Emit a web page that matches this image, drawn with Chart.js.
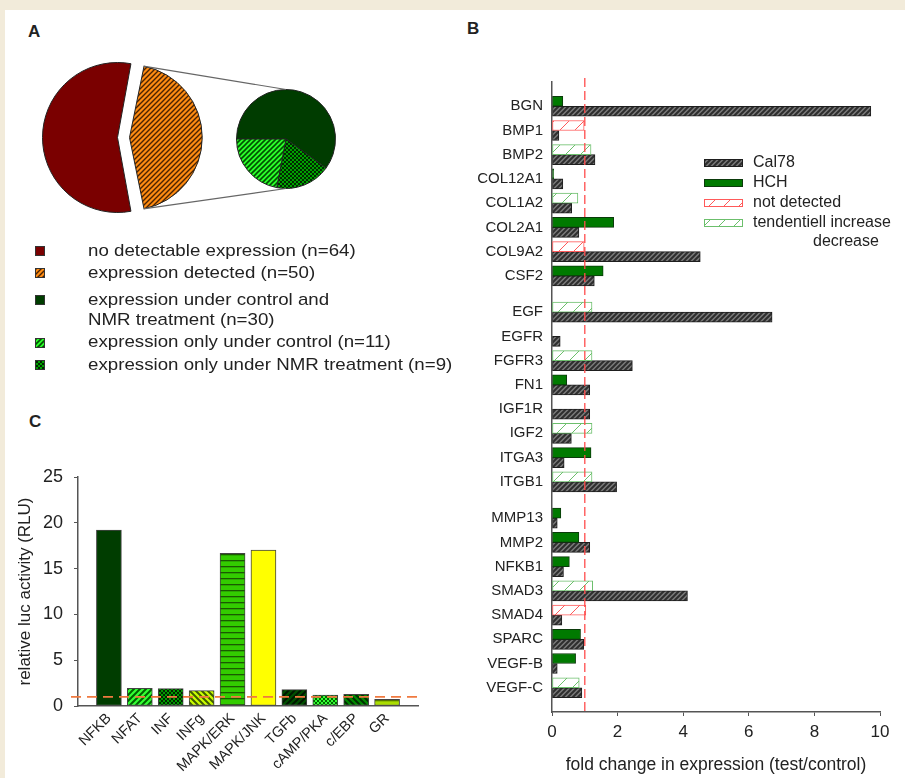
<!DOCTYPE html>
<html>
<head>
<meta charset="utf-8">
<script src="https://cdn.jsdelivr.net/npm/chart.js@4.4.1/dist/chart.umd.min.js"></script>
<style>
  body { margin: 0; width: 905px; height: 778px; background: #f2ebda; position: relative; overflow: hidden;
         font-family: Arial, "Liberation Sans", sans-serif; color: #222; }
  #panel { position: absolute; left: 5px; top: 10px; width: 900px; height: 768px; background: #fff; }
  .plabel { position: absolute; font-weight: bold; font-size: 17px; }
  canvas { position: absolute; }
  .sw { position: absolute; left: 35px; width: 10px; height: 10px; border: 1px solid #333; box-sizing: border-box; }
  .lt { position: absolute; left: 88px; font-size: 17px; line-height: 20px; white-space: pre; transform: scaleX(1.1); transform-origin: 0 50%; }
  svg { position: absolute; left: 0; top: 0; }
</style>
</head>
<body>
<div id="panel"></div>
<div class="plabel" style="left:28px;top:22px">A</div>
<div class="plabel" style="left:467px;top:19px">B</div>
<div class="plabel" style="left:29px;top:412px">C</div>

<canvas id="pieMain" width="163" height="163" style="left:42px;top:56px"></canvas>
<canvas id="pieSub" width="100" height="100" style="left:236px;top:89px"></canvas>
<svg id="links" width="905" height="778"></svg>
<div id="legendA"></div>

<canvas id="chartB" width="435" height="708" style="left:470px;top:70px"></canvas>
<canvas id="chartC" width="430" height="338" style="left:5px;top:440px"></canvas>

<script>
// ---------- Panel A data ----------
const mainCats = ['no detectable expression', 'expression detected'];
const mainCounts = [64, 50];
const subCats = ['expression under control and\nNMR treatment', 'expression only under control', 'expression only under NMR treatment'];
const subCounts = [30, 11, 9];

// ---------- Panel B data ----------
const geneGroups = [
  ['BGN', 'BMP1', 'BMP2', 'COL12A1', 'COL1A2', 'COL2A1', 'COL9A2', 'CSF2'],
  ['EGF', 'EGFR', 'FGFR3', 'FN1', 'IGF1R', 'IGF2', 'ITGA3', 'ITGB1'],
  ['MMP13', 'MMP2', 'NFKB1', 'SMAD3', 'SMAD4', 'SPARC', 'VEGF-B', 'VEGF-C']
];
const cal78 = [9.72, 0.21, 1.31, 0.33, 0.60, 0.82, 4.52, 1.29,
               6.71, 0.25, 2.45, 1.15, 1.15, 0.59, 0.37, 1.97,
               0.16, 1.15, 0.35, 4.13, 0.30, 0.97, 0.16, 0.91];
const hch = [0.33, null, null, 0.05, null, 1.88, null, 1.56,
             null, null, null, 0.45, null, null, 1.19, null,
             0.27, 0.82, 0.53, null, null, 0.87, 0.72, null];
const notDetected = [null, 0.98, null, null, null, null, 0.98, null,
                     null, null, null, null, null, null, null, null,
                     null, null, null, null, 1.03, null, null, null];
const tendentiell = [null, null, 1.19, null, 0.79, null, null, null,
                     1.22, null, 1.22, null, null, 1.22, null, 1.22,
                     null, null, null, 1.24, null, null, null, 0.83];
const foldTicks = [0, 2, 4, 6, 8, 10];
const baselineB = 1;

// ---------- Panel C data ----------
const pathways = ['NFKB', 'NFAT', 'INF', 'INFg', 'MAPK/ERK', 'MAPK/JNK', 'TGFb', 'cAMP/PKA', 'c/EBP', 'GR'];
const rlu = [19.2, 1.93, 1.9, 1.67, 16.67, 17.03, 1.78, 1.2, 1.27, 0.73];
const baselineC = 1;

const FONT = 'Arial, "Liberation Sans", sans-serif';
Chart.defaults.font.family = FONT;
Chart.defaults.color = '#222';

// ---------- pattern helpers ----------
function makePattern(kind, bg, fg, size, lw) {
  const c = document.createElement('canvas');
  c.width = size; c.height = size;
  const x = c.getContext('2d');
  x.fillStyle = bg; x.fillRect(0, 0, size, size);
  x.strokeStyle = fg; x.fillStyle = fg; x.lineWidth = lw;
  const s = size;
  if (kind === 'diag') {
    x.beginPath();
    x.moveTo(0, s); x.lineTo(s, 0);
    x.moveTo(-s / 2, s / 2); x.lineTo(s / 2, -s / 2);
    x.moveTo(s / 2, s * 1.5); x.lineTo(s * 1.5, s / 2);
    x.stroke();
  } else if (kind === 'back') {
    x.beginPath();
    x.moveTo(0, 0); x.lineTo(s, s);
    x.moveTo(-s / 2, s / 2); x.lineTo(s / 2, s * 1.5);
    x.moveTo(s / 2, -s / 2); x.lineTo(s * 1.5, s / 2);
    x.stroke();
  } else if (kind === 'check') {
    const h = s / 2;
    x.fillRect(0, 0, h, h); x.fillRect(h, h, h, h);
  } else if (kind === 'horiz') {
    x.fillRect(0, 0, s, lw);
  }
  c.pattern = x.createPattern(c, 'repeat');
  return c;
}

// ---------- Panel A ----------
const redFill = '#7a0000';
const orangePat = makePattern('diag', '#ff8c12', '#4a2200', 5, 1.4);
const dkGreen = '#003c00';
const limePat = makePattern('diag', '#2bff2b', '#005000', 5, 1.6);
const checkPat = makePattern('check', '#00a000', '#002a00', 4, 1);

const mainColors = [redFill, orangePat.pattern];
const subColors = [dkGreen, limePat.pattern, checkPat.pattern];
const subPieOrder = [0, 2, 1];

const mainSpan = mainCounts[0] / (mainCounts[0] + mainCounts[1]) * 360;
const pieMain = new Chart(document.getElementById('pieMain'), {
  type: 'pie',
  data: {
    labels: mainCats,
    datasets: [{
      data: mainCounts,
      backgroundColor: mainColors,
      borderColor: '#222', borderWidth: 1, hoverBorderWidth: 1,
      offset: 24, hoverOffset: 24
    }]
  },
  options: {
    responsive: false, animation: false, events: [],
    rotation: 270 - mainSpan / 2,
    plugins: { legend: { display: false }, tooltip: { enabled: false } }
  }
});

const pieSub = new Chart(document.getElementById('pieSub'), {
  type: 'pie',
  data: {
    labels: subPieOrder.map(i => subCats[i]),
    datasets: [{
      data: subPieOrder.map(i => subCounts[i]),
      backgroundColor: subPieOrder.map(i => subColors[i]),
      borderColor: '#222', borderWidth: 1, hoverBorderWidth: 1,
      offset: 0, hoverOffset: 0
    }]
  },
  options: {
    responsive: false, animation: false, events: [],
    rotation: -90,
    plugins: { legend: { display: false }, tooltip: { enabled: false } }
  }
});

// connector lines from the exploded slice to the small pie
(function drawLinks() {
  const cm = document.getElementById('pieMain'), cs = document.getElementById('pieSub');
  const arc = pieMain.getDatasetMeta(0).data[1];
  const o = arc.options.offset / 4;
  const circ = arc.endAngle - arc.startAngle;
  const r = arc.outerRadius + o * (1 - Math.sin(Math.min(Math.PI, circ)));
  const mid = (arc.startAngle + arc.endAngle) / 2;
  const bx = cm.offsetLeft + arc.x + o * Math.cos(mid), by = cm.offsetTop + arc.y + o * Math.sin(mid);
  const small = pieSub.getDatasetMeta(0).data[0];
  const sx = cs.offsetLeft + small.x, sy = cs.offsetTop + small.y, sr = small.outerRadius;
  const pts = [
    [bx + r * Math.cos(arc.startAngle), by + r * Math.sin(arc.startAngle), sx, sy - sr],
    [bx + r * Math.cos(arc.endAngle), by + r * Math.sin(arc.endAngle), sx, sy + sr]
  ];
  const svg = document.getElementById('links');
  pts.forEach(p => {
    const l = document.createElementNS('http://www.w3.org/2000/svg', 'line');
    l.setAttribute('x1', p[0]); l.setAttribute('y1', p[1]);
    l.setAttribute('x2', p[2]); l.setAttribute('y2', p[3]);
    l.setAttribute('stroke', '#666'); l.setAttribute('stroke-width', '1.2');
    svg.appendChild(l);
  });
})();

// legend of panel A
(function legendA() {
  const host = document.getElementById('legendA');
  const rows = [
    { text: `${mainCats[0]} (n=${mainCounts[0]})`, fill: redFill, sw: 246, tx: 241 },
    { text: `${mainCats[1]} (n=${mainCounts[1]})`, fill: orangePat, sw: 268, tx: 263 },
    { text: `${subCats[0]} (n=${subCounts[0]})`, fill: dkGreen, sw: 295, tx: 290 },
    { text: `${subCats[1]} (n=${subCounts[1]})`, fill: limePat, sw: 338, tx: 332 },
    { text: `${subCats[2]} (n=${subCounts[2]})`, fill: checkPat, sw: 360, tx: 355 }
  ];
  rows.forEach(r => {
    const s = document.createElement('div');
    s.className = 'sw';
    s.style.top = r.sw + 'px';
    if (typeof r.fill === 'string') s.style.background = r.fill;
    else s.style.backgroundImage = `url(${r.fill.toDataURL()})`;
    host.appendChild(s);
    const t = document.createElement('div');
    t.className = 'lt';
    t.style.top = r.tx + 'px';
    t.textContent = r.text;
    host.appendChild(t);
  });
})();

// ---------- shared plugins ----------
const refLine = {
  id: 'refLine',
  afterDatasetsDraw(chart, args, opts) {
    const { ctx, chartArea: a, scales } = chart;
    ctx.save();
    ctx.strokeStyle = opts.color; ctx.lineWidth = opts.width; ctx.setLineDash(opts.dash);
    ctx.beginPath();
    if (opts.axis === 'x') {
      const px = scales.x.getPixelForValue(opts.value);
      ctx.moveTo(px, a.top - (opts.extend || 0)); ctx.lineTo(px, a.bottom);
    } else {
      const py = scales.y.getPixelForValue(opts.value);
      ctx.moveTo(a.left - (opts.extend || 0), py); ctx.lineTo(a.right, py);
    }
    ctx.stroke();
    ctx.restore();
  }
};

// ---------- Panel B ----------
const genes = geneGroups.flat();
const rowPos = [];
let p = 0;
geneGroups.forEach((g, gi) => {
  if (gi > 0) p += 0.5;
  g.forEach(() => { p += 1; rowPos.push(p); });
});
const rowMax = p + 1;
const toPoints = vals => vals.map((v, i) => ({ x: v, y: rowPos[i] })).filter(d => d.x !== null);

const cal78Pat = makePattern('diag', '#7a7a7a', '#2e2e2e', 5, 2);
const ndPat = makePattern('diag', '#ffffff', '#ff5a5a', 15, 1);
const tdPat = makePattern('diag', '#ffffff', '#6cbf6c', 15, 1);

const legendB = {
  id: 'legendB',
  afterDraw(chart) {
    const ctx = chart.ctx;
    const order = [3, 0, 1, 2];
    ctx.save();
    ctx.font = '16px ' + FONT;
    ctx.textBaseline = 'middle';
    order.forEach((di, k) => {
      const ds = chart.data.datasets[di];
      const y = 93 + k * 20;
      ctx.fillStyle = ds.backgroundColor; ctx.fillRect(234, y - 4, 39, 8);
      ctx.strokeStyle = ds.borderColor; ctx.lineWidth = 1; ctx.strokeRect(234.5, y - 3.5, 38, 7);
      ctx.fillStyle = '#222';
      const lines = ds.label.split('\n');
      ctx.fillText(lines[0], 283, y);
      if (lines[1]) ctx.fillText(lines[1], 343, y + 19);
    });
    ctx.restore();
  }
};

const barBase = { barThickness: 10, borderWidth: 1, borderSkipped: false };
new Chart(document.getElementById('chartB'), {
  type: 'bar',
  data: {
    datasets: [
      { ...barBase, label: 'HCH', data: toPoints(hch), stack: 'top', backgroundColor: '#007a00', borderColor: '#0b3a0b' },
      { ...barBase, label: 'not detected', data: toPoints(notDetected), stack: 'top', backgroundColor: ndPat.pattern, borderColor: '#ff5a5a' },
      { ...barBase, label: 'tendentiell increase\ndecrease', data: toPoints(tendentiell), stack: 'top', backgroundColor: tdPat.pattern, borderColor: '#6cbf6c' },
      { ...barBase, label: 'Cal78', data: toPoints(cal78), stack: 'bottom', backgroundColor: cal78Pat.pattern, borderColor: '#1e1e1e' }
    ]
  },
  options: {
    indexAxis: 'y', responsive: false, animation: false, events: [],
    layout: { padding: { top: 12, right: 25, left: 0, bottom: 0 } },
    scales: {
      y: {
        type: 'linear', reverse: true, min: 0, max: rowMax, offset: false,
        afterBuildTicks: s => { s.ticks = [0, ...rowPos, rowMax].map(v => ({ value: v })); },
        afterFit: s => { s.width = 82; s.paddingTop = 0; s.paddingBottom = 0; },
        grid: { display: false, drawTicks: false },
        border: { display: true, color: '#555', width: 1.5 },
        ticks: { autoSkip: false, padding: 9, font: { size: 15 }, color: '#222',
                 callback: v => { const i = rowPos.indexOf(v); return i >= 0 ? genes[i] : null; } }
      },
      x: {
        min: 0, max: 10,
        afterBuildTicks: s => { s.ticks = foldTicks.map(v => ({ value: v })); },
        afterFit: s => { s.height = 66; },
        grid: { display: true, drawOnChartArea: false, drawTicks: true, tickLength: 4, color: '#555', lineWidth: 1 },
        border: { display: true, color: '#555', width: 1.5 },
        ticks: { padding: 6, font: { size: 17 }, color: '#222' },
        title: { display: true, text: 'fold change in expression (test/control)', font: { size: 17.5 }, color: '#222', padding: { top: 0, bottom: 2 } }
      }
    },
    plugins: {
      legend: { display: false }, tooltip: { enabled: false },
      refLine: { axis: 'x', value: baselineB, color: '#ff4d4d', width: 1.3, dash: [9, 4], extend: 4 }
    }
  },
  plugins: [refLine, legendB]
});

// ---------- Panel C ----------
const pathwayFills = [
  '#003d00',
  makePattern('diag', '#33ff33', '#006000', 6, 2).pattern,
  makePattern('check', '#009a00', '#002600', 4, 1).pattern,
  makePattern('back', '#ccff00', '#3f5c00', 6, 2).pattern,
  makePattern('horiz', '#33cc00', '#1a5a00', 6, 1.3).pattern,
  '#ffff00',
  makePattern('diag', '#005000', '#001800', 6, 2).pattern,
  makePattern('check', '#33ff33', '#006600', 4, 1).pattern,
  makePattern('back', '#008a00', '#003000', 6, 2).pattern,
  makePattern('horiz', '#aadd00', '#557700', 5, 1.3).pattern
];

new Chart(document.getElementById('chartC'), {
  type: 'bar',
  data: {
    labels: ['', ...pathways, ''],
    datasets: [{
      label: 'relative luc activity',
      data: [null, ...rlu, null],
      backgroundColor: ['transparent', ...pathwayFills, 'transparent'],
      borderColor: '#444', borderWidth: 1, borderSkipped: false, barThickness: 25
    }]
  },
  options: {
    responsive: false, animation: false, events: [],
    layout: { padding: { top: 37, right: 17, left: 0, bottom: 0 } },
    scales: {
      x: {
        offset: false,
        afterFit: s => { s.height = 72; },
        grid: { display: false, drawTicks: false },
        border: { display: true, color: '#555', width: 1.5 },
        ticks: { autoSkip: false, minRotation: 45, maxRotation: 45, padding: 4, font: { size: 14.5 }, color: '#222' }
      },
      y: {
        min: 0, max: 25,
        ticks: { stepSize: 5, padding: 11, font: { size: 18 }, color: '#222' },
        afterFit: s => { s.width = 73; },
        grid: { display: true, drawOnChartArea: false, drawTicks: true, tickLength: 4, color: '#555' },
        border: { display: true, color: '#555', width: 1.5 },
        title: { display: true, text: 'relative luc activity (RLU)', font: { size: 17 }, color: '#222', padding: { top: 10, bottom: 0 } }
      }
    },
    plugins: {
      legend: { display: false }, tooltip: { enabled: false },
      refLine: { axis: 'y', value: baselineC, color: '#f07a40', width: 1.8, dash: [10, 6], extend: 7 }
    }
  },
  plugins: [refLine]
});
</script>
</body>
</html>
